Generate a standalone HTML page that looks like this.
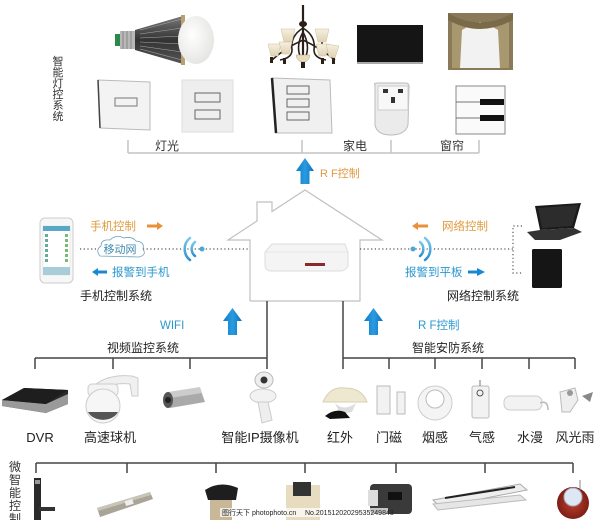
<!DOCTYPE html>
<html><head><meta charset="utf-8"><style>
html,body{margin:0;padding:0;background:#fff;}
svg{display:block;}
text{font-family:"Liberation Sans","Noto Sans CJK SC",sans-serif;}
</style></head><body>
<svg width="600" height="520" viewBox="0 0 600 520" xmlns="http://www.w3.org/2000/svg">
<defs>
<linearGradient id="blueA" x1="0" y1="0" x2="1" y2="0"><stop offset="0" stop-color="#0c7cc8"/><stop offset="0.5" stop-color="#2a9be0"/><stop offset="1" stop-color="#0c74bc"/></linearGradient>
<linearGradient id="sink" x1="0" y1="0" x2="0" y2="1"><stop offset="0" stop-color="#777"/><stop offset="0.5" stop-color="#333"/><stop offset="1" stop-color="#555"/></linearGradient>
<radialGradient id="globe" cx="0.4" cy="0.4" r="0.7"><stop offset="0" stop-color="#fff"/><stop offset="1" stop-color="#e2e2de"/></radialGradient>
<linearGradient id="wifi" x1="0" y1="0" x2="0" y2="1"><stop offset="0" stop-color="#7cc8ec"/><stop offset="1" stop-color="#2a8fd0"/></linearGradient>
<radialGradient id="red" cx="0.5" cy="0.5" r="0.6"><stop offset="0" stop-color="#c04030"/><stop offset="1" stop-color="#701810"/></radialGradient>
<linearGradient id="shade" x1="0" y1="0" x2="0" y2="1"><stop offset="0" stop-color="#f6f0e0"/><stop offset="1" stop-color="#e0d2b4"/></linearGradient>
</defs>

<!-- ===== TOP: lighting system ===== -->
<text font-size="11" fill="#333" text-anchor="middle">
<tspan x="58" y="65">智</tspan><tspan x="58" y="76">能</tspan><tspan x="58" y="87">灯</tspan><tspan x="58" y="98">控</tspan><tspan x="58" y="109">系</tspan><tspan x="58" y="120">统</tspan></text>

<!-- bulb -->
<rect x="115" y="34" width="6" height="12" fill="#2a8a4a"/>
<rect x="120" y="31" width="15" height="18" fill="#b8b8b8"/>
<line x1="123" y1="31" x2="123" y2="49" stroke="#888"/><line x1="127" y1="31" x2="127" y2="49" stroke="#888"/><line x1="131" y1="31" x2="131" y2="49" stroke="#888"/>
<polygon points="135,30 183,16 183,64 135,50" fill="url(#sink)"/>
<g stroke="#aaa" stroke-width="0.6"><line x1="140" y1="30" x2="182" y2="19"/><line x1="140" y1="34" x2="182" y2="28"/><line x1="140" y1="38" x2="182" y2="36"/><line x1="140" y1="42" x2="182" y2="44"/><line x1="140" y1="46" x2="182" y2="52"/><line x1="140" y1="49" x2="182" y2="60"/></g>
<rect x="181" y="15" width="4" height="50" fill="#b8a070"/>
<ellipse cx="196" cy="40" rx="18" ry="24" fill="url(#globe)"/>

<!-- chandelier -->
<g>
<line x1="303" y1="5" x2="303" y2="58" stroke="#2a2018" stroke-width="2.2"/>
<ellipse cx="303" cy="24" rx="4" ry="3" fill="#2a2018"/>
<path d="M303 28 Q290 36 292 50 Q292 58 280 60 M303 28 Q316 36 314 50 Q314 58 326 60 M303 32 Q296 45 300 56 M303 32 Q310 45 306 56 M303 40 Q285 48 272 60 M303 40 Q320 48 335 60 M287 40 L287 48 M322 40 L322 48" stroke="#2a2018" stroke-width="1.6" fill="none"/>
<g fill="url(#shade)" stroke="#cbbd98" stroke-width="0.5">
<path d="M281 29 L295 29 L292 42 L284 42 Z"/><path d="M315 29 L329 29 L326 42 L318 42 Z"/>
<path d="M268 44 L281 44 L278 56 L271 56 Z"/><path d="M279 42 L292 42 L289 54 L282 54 Z"/>
<path d="M316 44 L329 44 L326 56 L319 56 Z"/><path d="M326 44 L339 46 L335 58 L329 57 Z"/>
</g>
<path d="M296 55 L310 55 Q309 62 303 62 Q297 62 296 55 Z" fill="#e8dcc0" stroke="#b8a880" stroke-width="0.5"/>
<rect x="301" y="62" width="4" height="6" fill="#2a2018"/>
<rect x="270" y="57" width="3" height="6" fill="#2a2018"/><rect x="283" y="58" width="3" height="6" fill="#2a2018"/><rect x="321" y="58" width="3" height="6" fill="#2a2018"/><rect x="332" y="58" width="3" height="6" fill="#2a2018"/>
</g>

<!-- TV -->
<rect x="357" y="25" width="66" height="38" fill="#151515"/>
<rect x="357" y="62" width="66" height="2" fill="#aaa"/>
<!-- curtain -->
<rect x="448" y="13" width="65" height="57" fill="#8a7a5a"/>
<path d="M452 18 Q480 30 509 18 L509 68 L497 68 Q485 35 480 22 Q475 35 463 68 L452 68 Z" fill="#a89870"/>
<path d="M462 30 Q470 25 480 22 Q490 25 498 30 L500 68 L460 68 Z" fill="#f2f2f2"/>
<path d="M448 13 Q480 32 513 13 L513 20 Q480 38 448 20 Z" fill="#7a6a48"/>

<!-- switches -->
<polygon points="98,80 150,82 150,130 100,128" fill="#f3f3f3" stroke="#bbb"/>
<line x1="98" y1="80" x2="100" y2="128" stroke="#444" stroke-width="1.5"/>
<rect x="115" y="98" width="22" height="8" fill="none" stroke="#777"/>
<rect x="182" y="80" width="51" height="52" fill="#eeeeee" stroke="#ddd"/>
<rect x="195" y="93" width="25" height="9" fill="none" stroke="#666"/>
<rect x="195" y="110" width="25" height="9" fill="none" stroke="#666"/>
<polygon points="272,78 330,80 332,133 276,133" fill="#f0f0f0" stroke="#bbb"/>
<line x1="272" y1="78" x2="276" y2="133" stroke="#222" stroke-width="2.5"/>
<rect x="287" y="86" width="22" height="8" fill="none" stroke="#666"/>
<rect x="287" y="99" width="22" height="8" fill="none" stroke="#666"/>
<rect x="287" y="112" width="22" height="8" fill="none" stroke="#666"/>
<!-- socket -->
<path d="M375 85 Q373 83 378 83 L405 83 Q410 83 409 88 L408 125 Q405 135 391 135 Q377 135 375 125 Z" fill="#ebebeb" stroke="#bbb"/>
<rect x="378" y="86" width="30" height="24" fill="#f8f8f8" stroke="#ccc"/>
<rect x="383" y="89" width="5" height="4" fill="#333"/><rect x="398" y="89" width="5" height="4" fill="#333"/><rect x="391" y="97" width="4" height="6" fill="#333"/>
<!-- curtain switch -->
<rect x="456" y="86" width="49" height="48" fill="#fafafa" stroke="#888"/>
<line x1="456" y1="102" x2="480" y2="102" stroke="#777"/><rect x="480" y="99" width="24" height="6" fill="#111"/>
<line x1="456" y1="118" x2="480" y2="118" stroke="#777"/><rect x="480" y="115" width="24" height="6" fill="#111"/>

<!-- bracket -->
<g stroke="#c4c4c4" stroke-width="1.5" fill="none">
<line x1="128" y1="140" x2="128" y2="153"/><line x1="302" y1="140" x2="302" y2="153"/><line x1="391" y1="140" x2="391" y2="153"/><line x1="479" y1="140" x2="479" y2="153"/>
<line x1="128" y1="153" x2="479" y2="153"/>
</g>
<text x="167" y="150" font-size="12" fill="#333" text-anchor="middle">灯光</text>
<text x="355" y="150" font-size="12" fill="#333" text-anchor="middle">家电</text>
<text x="452" y="150" font-size="12" fill="#333" text-anchor="middle">窗帘</text>

<!-- top arrow -->
<polygon points="305,158 314,171 309.5,171 309.5,184 300.5,184 300.5,171 296,171" fill="url(#blueA)"/>
<text x="320" y="177" font-size="11" fill="#e09a40">R F控制</text>

<!-- house -->
<polyline points="250,301 250,240 228,240 257,221 257,202 272,202 272,211.5 305,190 382,240 360,240 360,301 250,301" fill="none" stroke="#c0c0c0" stroke-width="1.2"/>
<!-- router -->
<path d="M265 252 L272 244 L345 244 L348 252 L348 266 Q346 271 340 271 L270 271 Q265 270 265 265 Z" fill="#f4f4f4" stroke="#ddd"/>
<path d="M265 252 L348 252" stroke="#e6e6e6"/>
<rect x="305" y="263" width="20" height="3" fill="#8a2a2a"/>

<!-- dotted lines -->
<line x1="80" y1="249" x2="250" y2="249" stroke="#555" stroke-width="1.2" stroke-dasharray="1.2,2.5"/>
<line x1="360" y1="249" x2="513" y2="249" stroke="#555" stroke-width="1.2" stroke-dasharray="1.2,2.5"/>
<polyline points="522,226 513,226 513,273 522,273" fill="none" stroke="#555" stroke-width="1.2" stroke-dasharray="1.2,2.5"/>

<!-- phone -->
<rect x="40" y="218" width="33" height="65" rx="5" fill="#f7f7f7" stroke="#ccc"/>
<rect x="43" y="226" width="27" height="49" fill="#fff" stroke="#ddd" stroke-width="0.5"/>
<rect x="43" y="226" width="27" height="5" fill="#5aa8c8"/>
<g fill="#6a9"><rect x="45" y="234" width="3" height="3"/><rect x="45" y="239" width="3" height="3"/><rect x="45" y="244" width="3" height="3"/><rect x="45" y="249" width="3" height="3"/><rect x="45" y="254" width="3" height="3"/><rect x="45" y="259" width="3" height="3"/></g>
<g fill="#7b7"><rect x="65" y="234" width="3" height="3"/><rect x="65" y="239" width="3" height="3"/><rect x="65" y="244" width="3" height="3"/><rect x="65" y="249" width="3" height="3"/><rect x="65" y="254" width="3" height="3"/><rect x="65" y="259" width="3" height="3"/></g>
<rect x="43" y="267" width="27" height="8" fill="#a8ccd8"/>

<!-- left labels -->
<text x="90" y="230" font-size="11.5" fill="#e09a40">手机控制</text>
<polygon points="147,224.5 157,224.5 157,222 163,226 157,230 157,227.5 147,227.5" fill="#e8903a"/>
<path d="M100 256 Q95 250 101 246 Q101 239 110 240 Q116 234 124 238 Q132 236 136 241 Q145 242 143 249 Q147 255 139 257 Z" fill="#fff" stroke="#6aa0b8" stroke-width="0.8"/>
<text x="120" y="253" font-size="11" fill="#3a8ab0" text-anchor="middle">移动网</text>
<text x="112" y="276" font-size="11.5" fill="#2a98d0">报警到手机</text>
<polygon points="92,272 98,268 98,270.5 107,270.5 107,273.5 98,273.5 98,276" fill="#1a88d0"/>
<text x="116" y="300" font-size="12" fill="#222" text-anchor="middle">手机控制系统</text>
<!-- left wifi -->
<g fill="none" stroke="url(#wifi)" stroke-linecap="round">
<path d="M195 242 A9 9 0 0 0 195 256" stroke-width="2.5"/>
<path d="M190 238 A14 14 0 0 0 190 260" stroke-width="2.5"/>
</g>
<circle cx="202" cy="249" r="2.5" fill="#4aa8d8"/>

<!-- right labels -->
<polygon points="428,224.5 418,224.5 418,222 412,226 418,230 418,227.5 428,227.5" fill="#e8903a"/>
<text x="442" y="230" font-size="11.5" fill="#e09a40">网络控制</text>
<g fill="none" stroke="url(#wifi)" stroke-linecap="round">
<path d="M420 242 A9 9 0 0 1 420 256" stroke-width="2.5"/>
<path d="M425 238 A14 14 0 0 1 425 260" stroke-width="2.5"/>
</g>
<circle cx="413" cy="249" r="2.5" fill="#4aa8d8"/>
<text x="405" y="276" font-size="11.5" fill="#2a98d0">报警到平板</text>
<polygon points="468,270.5 477,270.5 477,268 485,272 477,276 477,273.5 468,273.5" fill="#1a88d0"/>
<text x="483" y="300" font-size="12" fill="#222" text-anchor="middle">网络控制系统</text>
<!-- laptop -->
<polygon points="535,206 581,203 574,228 540,230" fill="#1a1a1a"/>
<polygon points="538,208 578,205 572,226 542,228" fill="#2c2c2c"/>
<polygon points="527,232 540,230 574,228 582,232 560,240 535,240" fill="#333"/>
<!-- tablet -->
<rect x="532" y="249" width="30" height="39" rx="1.5" fill="#151515"/>

<!-- up arrows -->
<polygon points="232.5,308 242,321 237,321 237,335 228,335 228,321 223,321" fill="url(#blueA)"/>
<text x="160" y="329" font-size="11.5" fill="#2a98d0">WIFI</text>
<polygon points="373.5,308 383,321 378,321 378,335 369,335 369,321 364,321" fill="url(#blueA)"/>
<text x="418" y="329" font-size="11.5" fill="#2a98d0">R F控制</text>

<!-- house to branches -->
<g stroke="#444" stroke-width="1.5">
<line x1="267" y1="301" x2="267" y2="358"/>
<line x1="343" y1="301" x2="343" y2="358"/>
<line x1="35" y1="358" x2="267" y2="358"/>
<line x1="35" y1="358" x2="35" y2="369"/><line x1="113" y1="358" x2="113" y2="369"/><line x1="190" y1="358" x2="190" y2="369"/><line x1="267" y1="358" x2="267" y2="369"/>
<line x1="343" y1="358" x2="575" y2="358"/>
<line x1="343" y1="358" x2="343" y2="369"/><line x1="389" y1="358" x2="389" y2="369"/><line x1="435" y1="358" x2="435" y2="369"/><line x1="482" y1="358" x2="482" y2="369"/><line x1="529" y1="358" x2="529" y2="369"/><line x1="575" y1="358" x2="575" y2="369"/>
<line x1="36" y1="463" x2="573" y2="463"/>
<line x1="36" y1="463" x2="36" y2="473"/><line x1="127" y1="463" x2="127" y2="473"/><line x1="216" y1="463" x2="216" y2="473"/><line x1="305" y1="463" x2="305" y2="473"/><line x1="396" y1="463" x2="396" y2="473"/><line x1="485" y1="463" x2="485" y2="473"/><line x1="573" y1="463" x2="573" y2="473"/>
</g>
<text x="143" y="352" font-size="12" fill="#222" text-anchor="middle">视频监控系统</text>
<text x="448" y="352" font-size="12" fill="#222" text-anchor="middle">智能安防系统</text>

<!-- video devices -->
<polygon points="2,400 24,388 68,390 68,404 46,413 2,406" fill="#2a2a2a"/>
<polygon points="2,400 46,404 68,394 68,404 46,413 2,406" fill="#9a9a9a"/>
<polygon points="2,400 24,388 68,390 46,404" fill="#1e1e1e"/>
<path d="M96 384 Q110 374 132 376 L138 378 L138 396 L132 396 L130 384 Q112 382 104 390 Z" fill="#f0f0f0" stroke="#ccc"/>
<rect x="88" y="384" width="30" height="12" rx="4" fill="#f4f4f4" stroke="#ccc"/>
<circle cx="103" cy="406" r="17" fill="#f6f6f6" stroke="#ccc"/>
<path d="M88 412 A16 12 0 0 0 118 412 Z" fill="#555"/>
<polygon points="165,393 200,388 205,402 170,408" fill="#aaa"/>
<polygon points="168,392 200,387 202,393 170,398" fill="#ccc"/>
<ellipse cx="168" cy="400" rx="5" ry="8" fill="#555"/>
<circle cx="168" cy="400" r="3" fill="#222"/>
<ellipse cx="264" cy="380" rx="9" ry="8" fill="#eee" stroke="#bbb"/>
<circle cx="264" cy="380" r="3.5" fill="#333"/>
<ellipse cx="263" cy="396" rx="13" ry="7" fill="#f2f2f2" stroke="#ccc"/>
<path d="M258 402 L268 402 L272 420 L262 423 Z" fill="#eee" stroke="#ccc"/>

<text x="40" y="442" font-size="13" fill="#222" text-anchor="middle">DVR</text>
<text x="110" y="442" font-size="13" fill="#222" text-anchor="middle">高速球机</text>
<text x="260" y="442" font-size="13" fill="#222" text-anchor="middle">智能IP摄像机</text>

<!-- security devices -->
<path d="M323 402 Q330 386 345 388 Q362 388 367 402 Z" fill="#efe8d0" stroke="#d8d0b0"/>
<path d="M335 403 Q344 412 356 403 L352 412 L340 414 Z" fill="#ddd"/>
<path d="M325 416 Q335 408 345 412 L350 418 L330 419 Z" fill="#111"/>
<rect x="377" y="386" width="13" height="28" fill="#f2f2f2" stroke="#bbb"/>
<rect x="397" y="392" width="8" height="22" fill="#f2f2f2" stroke="#bbb"/>
<circle cx="435" cy="403" r="17" fill="#f4f4f4" stroke="#ccc"/>
<circle cx="435" cy="399" r="9" fill="#fff" stroke="#bbb"/>
<rect x="472" y="386" width="17" height="32" rx="2" fill="#f2f2f2" stroke="#bbb"/>
<circle cx="480" cy="393" r="3" fill="none" stroke="#555"/>
<line x1="480" y1="380" x2="480" y2="386" stroke="#777"/>
<rect x="504" y="396" width="38" height="14" rx="6" fill="#f2f2f2" stroke="#ccc"/>
<path d="M540 403 Q548 400 548 410" stroke="#bbb" fill="none" stroke-width="1.5"/>
<path d="M560 392 L575 388 L578 400 L570 412 L562 412 Z" fill="#eee" stroke="#bbb"/>
<circle cx="570" cy="393" r="3" fill="#999"/>
<polygon points="582,396 593,392 590,402" fill="#888"/>

<text x="340" y="442" font-size="13" fill="#222" text-anchor="middle">红外</text>
<text x="389" y="442" font-size="13" fill="#222" text-anchor="middle">门磁</text>
<text x="435" y="442" font-size="13" fill="#222" text-anchor="middle">烟感</text>
<text x="482" y="442" font-size="13" fill="#222" text-anchor="middle">气感</text>
<text x="530" y="442" font-size="13" fill="#222" text-anchor="middle">水漫</text>
<text x="575" y="442" font-size="13" fill="#222" text-anchor="middle">风光雨</text>

<!-- bottom row -->
<text font-size="12" fill="#333" text-anchor="middle">
<tspan x="15" y="471">微</tspan><tspan x="15" y="484">智</tspan><tspan x="15" y="497">能</tspan><tspan x="15" y="510">控</tspan><tspan x="15" y="523">制</tspan></text>
<rect x="34" y="478" width="7" height="42" fill="#2a2a2a"/>
<rect x="35" y="480" width="5" height="4" fill="#999"/>
<rect x="39" y="507" width="16" height="4" fill="#333"/>
<polygon points="97,508 150,492 153,499 100,517" fill="#a8a498"/>
<polygon points="97,508 150,492 151,495 98,511" fill="#c8c4b8"/>
<rect x="125" y="500" width="8" height="5" fill="#eee" transform="rotate(-17 129 502)"/>
<path d="M205 490 Q220 480 238 488 L236 500 L208 500 Z" fill="#1e1e1e"/>
<rect x="210" y="500" width="22" height="20" fill="#c8b898"/>
<rect x="286" y="485" width="34" height="35" fill="#e8dcc0"/>
<rect x="293" y="482" width="18" height="14" fill="#333"/>
<rect x="370" y="484" width="42" height="30" rx="4" fill="#3a3a3a"/>
<rect x="368" y="490" width="10" height="16" fill="#ddd"/>
<rect x="388" y="492" width="14" height="8" fill="#111"/>
<polygon points="433,500 520,484 527,490 440,507" fill="#eee" stroke="#aaa"/>
<line x1="445" y1="498" x2="515" y2="487" stroke="#222" stroke-width="2"/>
<polygon points="433,504 520,495 526,500 438,510" fill="#e6e6e6" stroke="#bbb"/>
<circle cx="573" cy="503" r="16" fill="url(#red)"/>
<circle cx="573" cy="497" r="9" fill="#dde8f4" stroke="#aab"/>
<line x1="580" y1="480" x2="580" y2="490" stroke="#888"/>

<rect x="220" y="508" width="168" height="9" fill="#ffffff" opacity="0.7"/>
<text x="222" y="515" font-size="7" fill="#222">图行天下 photophoto.cn</text>
<text x="305" y="515" font-size="7" fill="#222">No.20151202029535249843</text>
</svg>
</body></html>
